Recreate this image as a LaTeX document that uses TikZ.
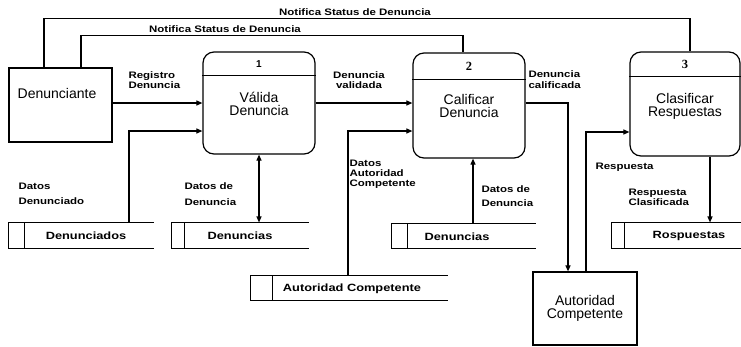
\documentclass[tikz,border=0pt]{standalone}
\usepackage{fontspec}
\setmainfont{Liberation Sans}
\newfontfamily\widesans[FakeStretch=1.22]{Liberation Sans}
\newfontfamily\numserif{Liberation Serif}
\usetikzlibrary{arrows.meta}
\begin{document}
\begin{tikzpicture}[x=1pt,y=-1pt,line width=1.1pt,
  >={Triangle[length=6pt,width=5pt]},
  proc/.style={draw,rounded corners=11pt,inner sep=0pt,line width=1.2pt},
  entity/.style={draw,inner sep=0pt,line width=1.2pt},
  storebox/.style={inner sep=0pt,draw=none},
  maintxt/.style={font=\fontsize{14}{13.5}\selectfont,align=center,inner sep=0pt},
  lbl/.style={font=\widesans\bfseries\fontsize{9.4}{#1}\selectfont,align=left,inner sep=0pt},
  lbl/.default=10.5,
  storetxt/.style={font=\widesans\bfseries\fontsize{10.5}{12}\selectfont,inner sep=0pt},
  numsans/.style={font=\bfseries\fontsize{10}{12}\selectfont,inner sep=0pt},
  numser/.style={font=\numserif\bfseries\fontsize{12.5}{14}\selectfont,inner sep=0pt}]
\useasboundingbox (0,0) rectangle (741,346);

% processes
\node[proc,minimum width=112,minimum height=102] (p1) at (259,103) {};
\draw ([yshift=-24pt]p1.north west) -- ([yshift=-24pt]p1.north east);
\node[numsans] (n1) at (259,64) {1};
\node[maintxt] (t1) at (259,104) {Válida\\Denuncia};

\node[proc,minimum width=112,minimum height=105] (p2) at (469,105.5) {};
\draw ([yshift=-27pt]p2.north west) -- ([yshift=-27pt]p2.north east);
\node[numser] (n2) at (469,66) {2};
\node[maintxt] (t2) at (469,106) {Calificar\\Denuncia};

\node[proc,minimum width=110,minimum height=104] (p3) at (685,104) {};
\draw ([yshift=-25pt]p3.north west) -- ([yshift=-25pt]p3.north east);
\node[numser] (n3) at (685,64) {3};
\node[maintxt] (t3) at (685,106.5) {Clasificar\\Respuestas};

% entities
\node[entity,minimum width=103,minimum height=74] (e1) at (60.5,105) {};
\node[maintxt] (e1t) at (57,93) {Denunciante};
\node[entity,minimum width=104,minimum height=73,maintxt,draw] (e2) at (585,308.5) {Autoridad\\Competente};

% stores
\node[storebox,minimum width=144,minimum height=25] (s1) at (81,235.5) {};
\draw (s1.north east) -- (s1.north west) -- (s1.south west) -- (s1.south east);
\draw ([xshift=16pt]s1.north west) -- ([xshift=16pt]s1.south west);
\node[storetxt] (s1t) at (86,236) {Denunciados};

\node[storebox,minimum width=136,minimum height=25] (s2) at (240,235.5) {};
\draw (s2.north east) -- (s2.north west) -- (s2.south west) -- (s2.south east);
\draw ([xshift=13pt]s2.north west) -- ([xshift=13pt]s2.south west);
\node[storetxt] (s2t) at (240,236) {Denuncias};

\node[storebox,minimum width=196,minimum height=24] (s3) at (349,288) {};
\draw (s3.north east) -- (s3.north west) -- (s3.south west) -- (s3.south east);
\draw ([xshift=22pt]s3.north west) -- ([xshift=22pt]s3.south west);
\node[storetxt] (s3t) at (352,288.5) {Autoridad Competente};

\node[storebox,minimum width=143,minimum height=24] (s4) at (463.5,236) {};
\draw (s4.north east) -- (s4.north west) -- (s4.south west) -- (s4.south east);
\draw ([xshift=16pt]s4.north west) -- ([xshift=16pt]s4.south west);
\node[storetxt] (s4t) at (457,236.5) {Denuncias};

\node[storebox,minimum width=128,minimum height=25] (s5) at (676,235.5) {};
\draw (s5.north east) -- (s5.north west) -- (s5.south west) -- (s5.south east);
\draw ([xshift=13pt]s5.north west) -- ([xshift=13pt]s5.south west);
\node[storetxt] (s5t) at (689,236) {Rospuestas};

% flows
\draw ([xshift=-16.5pt]e1.north) -- ++(0,-49) -| ([xshift=5pt]p3.north);
\node[lbl] (l1) at (355,12.5) {Notifica Status de Denuncia};
\draw ([xshift=20.5pt]e1.north) -- ++(0,-32) -| ([xshift=-6pt]p2.north);
\node[lbl] (l2) at (225,29.5) {Notifica Status de Denuncia};

\draw[->] (e1.east |- p1.west) -- (p1.west);
\node[lbl,anchor=west] (l3) at (128,80) {Registro\\Denuncia};

\draw[->] ([xshift=48pt]s1.north) |- ([yshift=-28pt]p1.west);
\node[lbl=15.5,anchor=west] (l4) at (18,194) {Datos\\Denunciado};

\draw[<->] (p1.south) -- (p1.south |- s2.north);
\node[lbl=15.5,anchor=west] (l5) at (184,194) {Datos de\\Denuncia};

\draw[->] (p1.east) -- (p1.east -| p2.west);
\node[lbl,align=center] (l6) at (359,80) {Denuncia\\validada};

\draw[->] ([xshift=-1pt]s3.north) |- ([yshift=-25.5pt]p2.west);
\node[lbl=10,anchor=west] (l7) at (349,174) {Datos\\Autoridad\\Competente};

\draw[->] ([xshift=9.5pt]s4.north) -- ([xshift=4pt]p2.south);
\node[lbl=14,anchor=west] (l8) at (481,196) {Datos de\\Denuncia};

\draw[->] ([yshift=2.5pt]p2.east) -| ([xshift=-17pt]e2.north);
\node[lbl,anchor=west] (l9) at (528,79.5) {Denuncia\\calificada};

\draw[->] ([xshift=1pt]e2.north) |- ([yshift=-28pt]p3.west);
\node[lbl,anchor=west] (l10) at (595,167) {Respuesta};

\draw[->] ([xshift=25pt]p3.south) -- ([xshift=25pt]p3.south |- s5.north);
\node[lbl=9.5,anchor=west] (l11) at (628,197.5) {Respuesta\\Clasificada};
\end{tikzpicture}
\end{document}
